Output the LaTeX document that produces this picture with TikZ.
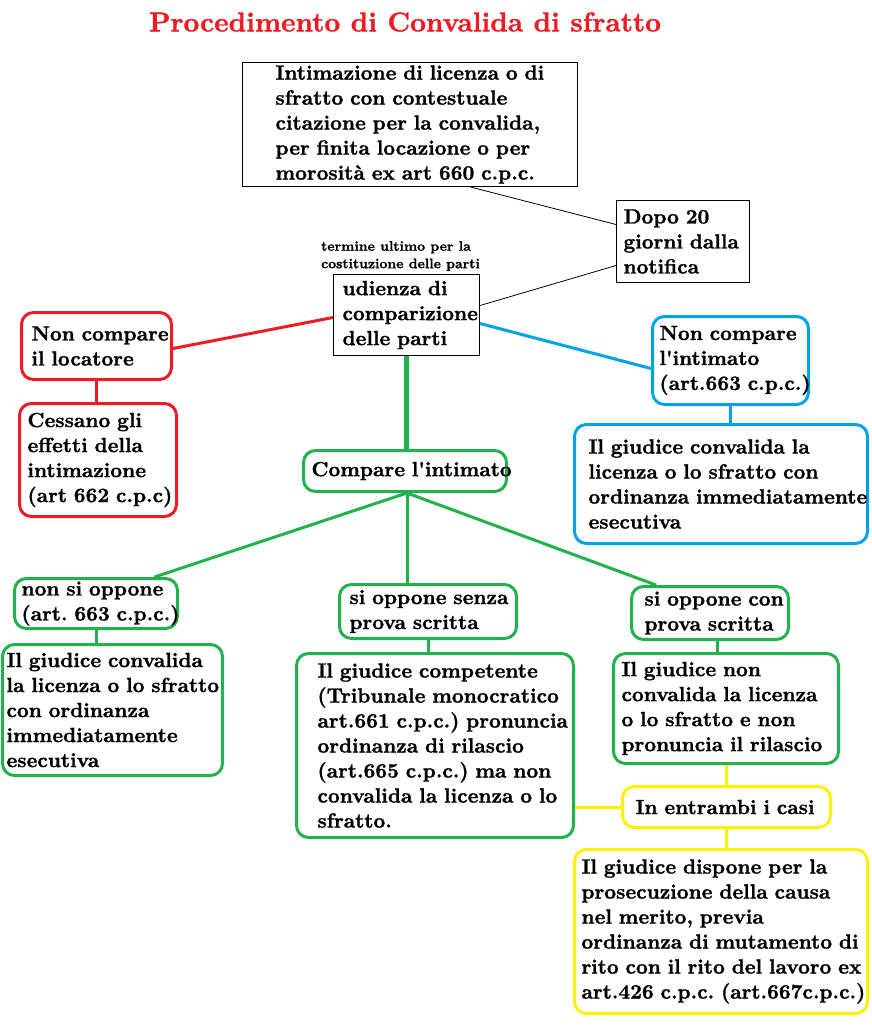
\documentclass[tikz,border=0pt]{standalone}
\usetikzlibrary{calc}
\DeclareFontFamily{TU}{lmrten}{}
\DeclareFontShape{TU}{lmrten}{bx}{n}{<-> "[lmroman10-bold]:embolden=1.2"}{}
\newcommand\tenbf{\fontfamily{lmrten}\fontseries{bx}\fontshape{n}}
\definecolor{pred}{HTML}{ED1C24}
\definecolor{pgreen}{HTML}{22B14C}
\definecolor{pblue}{HTML}{00A2E8}
\definecolor{pyellow}{HTML}{FFF200}
\newcommand\mkbox[8]{%
 \pgfmathsetmacro\bxW{#4-#2}\pgfmathsetmacro\bxH{#5-#3}%
 \pgfmathsetmacro\bxS{#6-#2}%
 \node[#7, anchor=north west, inner xsep=0pt, inner ysep=0pt,
   minimum width=\bxW pt, minimum height=\bxH pt, text width=\bxW pt, align=left]
   (#1) at (#2,#3) {\frenchspacing\leftskip=\bxS pt\rightskip=-200pt plus 1fil #8\par};}
\tikzset{
 txt/.style={font=\tenbf\fontsize{20.5}{25}\selectfont},
 sq/.style={txt, draw=black, line width=1pt},
 rbox/.style={txt, draw=#1, line width=3pt, rounded corners=12pt},
 conn/.style={line width=3pt, draw=#1},
 thin/.style={line width=0.8pt, draw=black},
}
\begin{document}
\begin{tikzpicture}[x=1pt,y=-1pt]
\useasboundingbox (0,0) rectangle (872,1026);
\node[text=pred, font=\tenbf\fontsize{27.4}{32}\selectfont] (title) at (405,22) {Procedimento di Convalida di sfratto};
\node[anchor=west, inner sep=0pt, align=left, font=\tenbf\fontsize{13.8}{17.5}\selectfont] (termine) at (321,256) {termine ultimo per la\\costituzione delle parti};

\mkbox{intim}{242}{62}{577}{186}{275}{sq}{Intimazione di licenza o di\\sfratto con contestuale\\citazione per la convalida,\\per finita locazione o per\\morosità ex art 660 c.p.c.}
\mkbox{dopo}{616}{200}{749}{282}{623}{sq}{Dopo 20\\giorni dalla\\notifica}
\mkbox{udienza}{333}{274}{479}{355}{342}{sq}{udienza di\\comparizione\\delle parti}
\mkbox{noncl}{20}{311}{170}{378}{30}{rbox=pred}{Non compare\\il locatore}
\mkbox{cessano}{18}{402}{175}{515}{26}{rbox=pred}{Cessano gli\\effetti della\\intimazione\\(art 662 c.p.c)}
\mkbox{nonci}{651}{315}{807}{403}{658}{rbox=pblue}{Non compare\\l'intimato\\(art.663 c.p.c.)}
\mkbox{giudA}{573}{423}{866}{542}{587}{rbox=pblue}{Il giudice convalida la\\licenza o lo sfratto con\\ordinanza immediatamente\\esecutiva}
\mkbox{compare}{302}{449}{505}{490}{310}{rbox=pgreen}{Compare l'intimato}
\mkbox{nonsi}{13}{577}{176}{627}{20}{rbox=pgreen}{non si oppone\\(art. 663 c.p.c.)}
\mkbox{senza}{338}{583}{515}{637}{348}{rbox=pgreen}{si oppone senza\\prova scritta}
\mkbox{con}{630}{585}{787}{638}{643}{rbox=pgreen}{si oppone con\\prova scritta}
\mkbox{giudB}{1}{643}{221}{774}{5}{rbox=pgreen}{Il giudice convalida\\la licenza o lo sfratto\\con ordinanza\\immediatamente\\esecutiva}
\mkbox{giudC}{295}{652}{572}{836}{316}{rbox=pgreen}{Il giudice competente\\(Tribunale monocratico\\art.661 c.p.c.) pronuncia\\ordinanza di rilascio\\(art.665 c.p.c.) ma non\\convalida la licenza o lo\\sfratto.}
\mkbox{giudD}{612}{652}{837}{762}{620}{rbox=pgreen}{Il giudice non\\convalida la licenza\\o lo sfratto e non\\pronuncia il rilascio}
\mkbox{entrambi}{621}{785}{829}{826}{634}{rbox=pyellow}{In entrambi i casi}
\mkbox{dispone}{573}{848}{866}{1012}{580}{rbox=pyellow}{Il giudice dispone per la\\prosecuzione della causa\\nel merito, previa\\ordinanza di mutamento di\\rito con il rito del lavoro ex\\art.426 c.p.c. (art.667c.p.c.)}

% black connectors
\draw[thin] ([xshift=60.5pt]intim.south) -- ([yshift=17pt]dopo.west);
\draw[thin] ([yshift=9.5pt]udienza.east) -- ([yshift=-24pt]dopo.west);
% red
\draw[conn=pred] ([yshift=-2.5pt]udienza.west) -- ([yshift=-2.5pt]noncl.east);
\draw[conn=pred] (noncl.south) -- (noncl.south |- cessano.north);
% blue
\draw[conn=pblue] ([yshift=-8.5pt]udienza.east) -- ([yshift=-8pt]nonci.west);
\draw[conn=pblue] (nonci.south) -- (nonci.south |- giudA.north);
% green
\draw[conn=pgreen, line width=5pt] (udienza.south) -- (udienza.south |- compare.north);
\draw[conn=pgreen] ([xshift=2pt]compare.south) -- ([xshift=58.5pt]nonsi.north);
\draw[conn=pgreen] ([xshift=2pt]compare.south) -- ([xshift=2pt]compare.south |- senza.north);
\draw[conn=pgreen] ([xshift=2pt]compare.south) -- ([xshift=-54pt]con.north);
\draw[conn=pgreen] (nonsi.south) -- (nonsi.south |- giudB.north);
\draw[conn=pgreen] (senza.south) -- (senza.south |- giudC.north);
\draw[conn=pgreen] ([xshift=7pt]con.south) -- ([xshift=7pt]con.south |- giudD.north);
% yellow
\draw[conn=pyellow] (giudD.south) -- (giudD.south |- entrambi.north);
\draw[conn=pyellow] (entrambi.west) -- (entrambi.west -| giudC.east);
\draw[conn=pyellow] (entrambi.south) -- (entrambi.south |- dispone.north);
\end{tikzpicture}
\end{document}
